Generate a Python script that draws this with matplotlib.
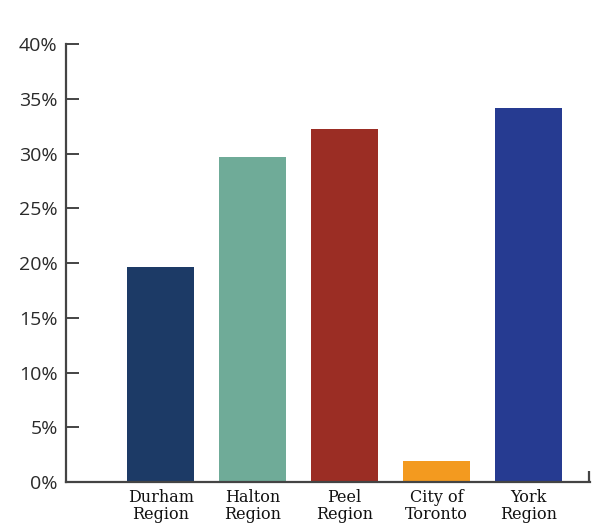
import matplotlib.pyplot as plt
from matplotlib.ticker import FixedLocator

regions = ["Durham\nRegion", "Halton\nRegion", "Peel\nRegion", "City of\nToronto", "York\nRegion"]
shares = [19.6, 29.7, 32.2, 1.9, 34.2]
colors = ["#1c3a66", "#6fab98", "#9b2d24", "#f39a1f", "#263b91"]
y_ticks = [0, 5, 10, 15, 20, 25, 30, 35, 40]
y_labels = ["0%", "5%", "10%", "15%", "20%", "25%", "30%", "35%", "40%"]

fig = plt.figure(figsize=(5.92, 5.27), dpi=100)
ax = fig.add_axes([0.1115, 0.0854, 0.885, 0.831])

x = list(range(len(regions)))
ax.bar(x, shares, width=0.73, color=colors)

ax.set_ylim(0, 40)
ax.set_xlim(-1.03, 4.67)

axis_col = "#444444"
for side in ["top", "right"]:
    ax.spines[side].set_visible(False)
for side in ["left", "bottom"]:
    ax.spines[side].set_color(axis_col)
    ax.spines[side].set_linewidth(1.6)

ax.set_yticks(y_ticks)
ax.set_yticklabels(y_labels, fontfamily="Open Sans", fontsize=14, color="#2a2a2a")
ax.tick_params(axis="y", direction="in", length=9, width=1.4, color=axis_col, pad=6)

ax.set_xticks(x)
ax.set_xticklabels(regions, fontfamily="DejaVu Serif", fontsize=11.5, color="#111111",
                   linespacing=1.0)
ax.tick_params(axis="x", length=0, pad=5)

# small closing tick at the right end of the baseline
ax.xaxis.set_minor_locator(FixedLocator([4.665]))
ax.tick_params(axis="x", which="minor", direction="in", length=8, width=1.6, color=axis_col)

fig.savefig("out.png", dpi=100)
